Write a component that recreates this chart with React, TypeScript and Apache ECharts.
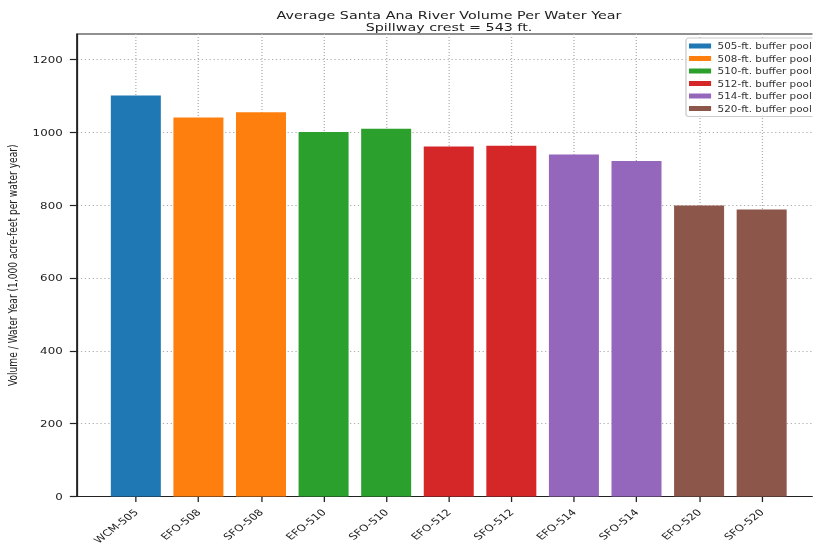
import React, { useEffect, useRef } from "react";
import * as echarts from "echarts";

const categories = ["WCM-505", "EFO-508", "SFO-508", "EFO-510", "SFO-510", "EFO-512", "SFO-512", "EFO-514", "SFO-514", "EFO-520", "SFO-520"];
const volumes = [1101, 1041, 1055, 1001, 1010, 961, 963, 939, 921, 799, 788];
const groupOfCategory = [0, 1, 1, 2, 2, 3, 3, 4, 4, 5, 5];
const groupNames = ["505-ft. buffer pool", "508-ft. buffer pool", "510-ft. buffer pool", "512-ft. buffer pool", "514-ft. buffer pool", "520-ft. buffer pool"];
const groupColors = ["#1f77b4", "#ff7f0e", "#2ca02c", "#d62728", "#9467bd", "#8c564b"];
const yTicks = [0, 200, 400, 600, 800, 1000, 1200];
const titleLines = ["Average Santa Ana River Volume Per Water Year", "Spillway crest = 543 ft."];
const yAxisTitle = "Volume / Water Year (1,000 acre-feet per water year)";

const FONT = "DejaVu Sans";
const STRETCH = 1.3; // the reference image is stretched horizontally
const W = 813 / STRETCH;

export default function App() {
  const ref = useRef<HTMLDivElement>(null);
  useEffect(() => {
    if (!ref.current) return;
    const chart = echarts.init(ref.current, null, { renderer: "svg" });
    const xIdx = categories.map((_, i) => i);
    const series = groupNames.map((name, g) => ({
      name,
      type: "bar",
      barWidth: 50 / STRETCH,
      barGap: "-100%",
      itemStyle: { color: groupColors[g] },
      data: xIdx.filter((i) => groupOfCategory[i] === g).map((i) => [i, volumes[i]]),
    }));
    chart.setOption({
      animation: false,
      textStyle: { fontFamily: FONT },
      graphic: [
        {
          type: "text",
          x: 449 / STRETCH,
          y: 9.5,
          style: {
            text: titleLines.join("\n"),
            align: "center",
            fontFamily: FONT,
            fontSize: 11,
            lineHeight: 12,
            fill: "#222",
          },
        },
      ],
      legend: {
        orient: "vertical",
        left: 686 / STRETCH,
        top: 38,
        itemWidth: 17,
        itemHeight: 5,
        itemGap: 4.5,
        icon: "rect",
        padding: [4, 3, 4, 2.3],
        borderColor: "#cccccc",
        borderWidth: 1,
        borderRadius: 2.5,
        backgroundColor: "rgba(255,255,255,0.85)",
        textStyle: { fontFamily: FONT, fontSize: 8, lineHeight: 8, color: "#333" },
        data: groupNames,
      },
      grid: {
        left: 77 / STRETCH,
        top: 34,
        width: (820.5 - 77) / STRETCH,
        bottom: 51.5,
        outerBoundsMode: "none",
        containLabel: false,
        show: true,
        borderColor: "#222",
        borderWidth: 1.2,
        backgroundColor: "transparent",
      },
      xAxis: {
        type: "value",
        min: -0.94,
        max: 10.94,
        axisLine: { show: true, onZero: false, lineStyle: { color: "#222", width: 1.2 } },
        axisTick: { show: true, length: 5.5, customValues: xIdx, lineStyle: { color: "#222", width: 1 } },
        axisLabel: {
          customValues: xIdx,
          rotate: 45,
          margin: 14,
          fontFamily: FONT,
          fontSize: 9.1,
          color: "#222",
          formatter: (v: number) => categories[Math.round(v)] ?? "",
        },
        splitLine: { show: true, lineStyle: { type: [1, 2], color: "#b0b0b0", width: 1 } },
      },
      yAxis: {
        type: "value",
        min: 0,
        max: 1270,
        name: yAxisTitle,
        nameLocation: "middle",
        nameGap: 44.5,
        nameTextStyle: { fontFamily: FONT, fontSize: 9.1, color: "#222" },
        axisLine: { show: true, onZero: false, lineStyle: { color: "#222", width: 1.2 } },
        axisTick: { show: true, length: 5.5, customValues: yTicks, lineStyle: { color: "#222", width: 1.2 } },
        axisLabel: {
          customValues: yTicks,
          margin: 11,
          fontFamily: FONT,
          fontSize: 9.1,
          color: "#222",
          formatter: (v: number) => String(v),
        },
        splitLine: { show: true, lineStyle: { type: [1, 2], color: "#b0b0b0", width: 1 } },
      },
      series,
    });
    return () => chart.dispose();
  }, []);
  return (
    <div
      ref={ref}
      style={{
        position: "fixed",
        left: 0,
        top: 0,
        width: W,
        height: 548,
        transform: `scaleX(${STRETCH})`,
        transformOrigin: "0 0",
      }}
    />
  );
}
